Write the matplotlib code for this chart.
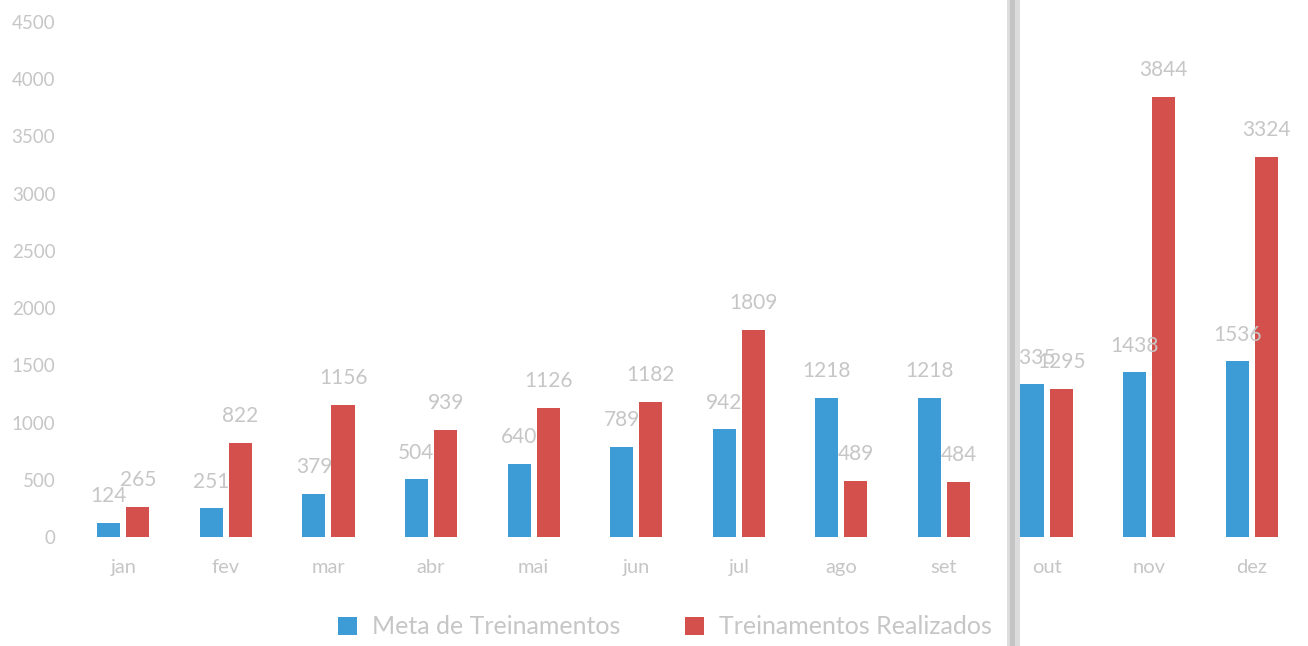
import matplotlib
matplotlib.use("Agg")
import matplotlib.pyplot as plt
import numpy as np
from matplotlib.patches import Rectangle

months = ["jan", "fev", "mar", "abr", "mai", "jun", "jul", "ago", "set", "out", "nov", "dez"]
meta = [124, 251, 379, 504, 640, 789, 942, 1218, 1218, 1335, 1438, 1536]
realizados = [265, 822, 1156, 939, 1126, 1182, 1809, 489, 484, 1295, 3844, 3324]
series_names = ["Meta de Treinamentos", "Treinamentos Realizados"]
yticks = [0, 500, 1000, 1500, 2000, 2500, 3000, 3500, 4000, 4500]

blue = "#3d9bd6"
red = "#d4504c"
txt = "#c6c6c6"

plt.rcParams['font.family'] = ['Lato', 'DejaVu Sans']

fig = plt.figure(figsize=(13.08, 6.46), dpi=100)
ax = fig.add_axes([72/1308, (646-537)/646, (1303-72)/1308, (537-22)/646])

x = np.arange(len(months))
w = 0.225
off = 0.142
b1 = ax.bar(x - off, meta, w, color=blue, label=series_names[0])
b2 = ax.bar(x + off, realizados, w, color=red, label=series_names[1])

for bars in (b1, b2):
    for r in bars:
        ax.annotate(f"{int(r.get_height())}", (r.get_x() + r.get_width()/2, r.get_height()),
                    xytext=(0, 12), textcoords="offset points", ha="center", va="bottom",
                    fontsize=15, color=txt)

ax.set_xlim(-0.5, len(months) - 0.5)
ax.set_ylim(0, 4500)
ax.set_yticks(yticks)
ax.set_yticklabels([str(v) for v in yticks], fontsize=13.5, color=txt)
ax.set_xticks(x)
ax.set_xticklabels(months, fontsize=14.5, color=txt)
ax.tick_params(axis='x', length=0, pad=16)
ax.tick_params(axis='y', length=0, pad=12)
for s in ax.spines.values():
    s.set_visible(False)

leg = fig.legend(handles=[b1, b2], labels=series_names, loc="center",
                 bbox_to_anchor=(665/1308, (646-627)/646), ncol=2, frameon=False,
                 prop={'size': 18}, handlelength=0.75, handleheight=0.75,
                 columnspacing=2.6, handletextpad=0.6)
for t in leg.get_texts():
    t.set_color(txt)

# scanned page fold
fig.patches.append(Rectangle((1007/1308, 0), 13/1308, 1, transform=fig.transFigure,
                             facecolor="#dcdcdc", edgecolor="none", zorder=0.5))
fig.patches.append(Rectangle((1010/1308, 0), 5/1308, 1, transform=fig.transFigure,
                             facecolor="#c4c4c4", edgecolor="none", zorder=0.6))

fig.savefig("out.png", dpi=100, facecolor="white")
